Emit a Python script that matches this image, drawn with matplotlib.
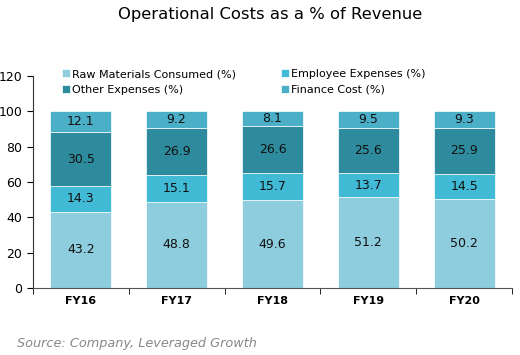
import matplotlib.pyplot as plt
import numpy as np

years = ["FY16", "FY17", "FY18", "FY19", "FY20"]
raw_materials = [43.2, 48.8, 49.6, 51.2, 50.2]
employee = [14.3, 15.1, 15.7, 13.7, 14.5]
other = [30.5, 26.9, 26.6, 25.6, 25.9]
finance = [12.1, 9.2, 8.1, 9.5, 9.3]

series = [
    ("Raw Materials Consumed (%)", raw_materials, "#8ecdde"),
    ("Employee Expenses (%)", employee, "#41bad6"),
    ("Other Expenses (%)", other, "#2e8b9e"),
    ("Finance Cost (%)", finance, "#4bafc8"),
]

fig = plt.figure(figsize=(5.2, 3.55), dpi=100)
ax = fig.add_axes([0.063, 0.189, 0.922, 0.597])

x = np.arange(len(years))
bottom = np.zeros(len(years))
handles = {}
for name, vals, col in series:
    vals = np.array(vals)
    b = ax.bar(x, vals, 0.64, bottom=bottom, color=col, edgecolor="white", linewidth=0.5, label=name)
    handles[name] = b
    for xi, v, bt in zip(x, vals, bottom):
        ax.text(xi, bt + v / 2, f"{v:.1f}", ha="center", va="center", fontsize=9, color="#111111")
    bottom += vals

ax.set_xlim(-0.5, len(years) - 0.5)
ax.set_ylim(0, 120)
ax.set_yticks(range(0, 121, 20))
ax.set_xticks(x)
ax.set_xticklabels(years, fontsize=8, fontweight="bold")
ax.set_xticks(np.arange(-0.5, len(years)), minor=True)
ax.tick_params(axis="x", which="major", length=0, pad=6)
ax.tick_params(axis="x", which="minor", length=4, direction="out")
ax.tick_params(axis="y", labelsize=9, length=4, direction="out")
for s in ["top", "right"]:
    ax.spines[s].set_visible(False)
ax.spines["bottom"].set_color("#555555")
ax.spines["left"].set_color("#333333")

# column-major fill so rows read Raw/Employee and Other/Finance
order = ["Raw Materials Consumed (%)", "Other Expenses (%)", "Employee Expenses (%)", "Finance Cost (%)"]
ax.legend([handles[n] for n in order], order, ncol=2, loc="upper left",
          bbox_to_anchor=(0.04, 1.08), frameon=False, fontsize=8,
          handlelength=0.7, handleheight=0.7, handletextpad=0.2,
          columnspacing=4.1, labelspacing=0.5)

fig.text(0.52, 0.96, "Operational Costs as a % of Revenue", ha="center", va="center", fontsize=11.8)
fig.text(0.033, 0.033, "Source: Company, Leveraged Growth", ha="left", va="center",
         fontsize=9.3, style="italic", color="#888888")

fig.savefig("out.png", dpi=100)
